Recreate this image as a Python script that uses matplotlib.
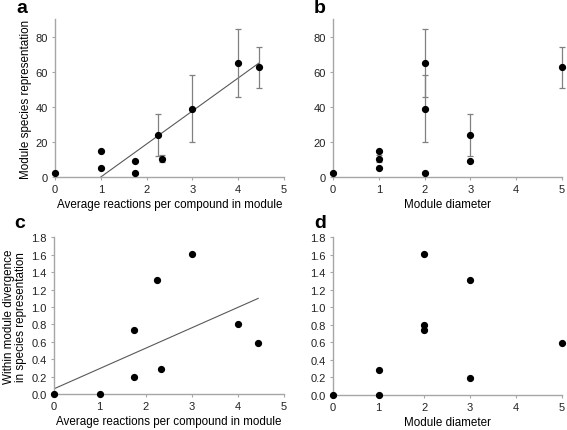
import matplotlib
matplotlib.use("Agg")
import matplotlib.pyplot as plt
import numpy as np

plt.rcParams['font.family'] = ['Liberation Sans', 'DejaVu Sans']

# Panel a: average reactions per compound vs species representation
a_x = [0, 1, 1, 1.75, 1.75, 2.25, 2.33, 3, 4, 4.45]
a_y = [2, 15, 5, 9, 2, 24, 10.5, 39, 65, 62.5]
a_err = [0, 0, 0, 0, 0, 12, 2, 19, 19.5, 11.7]
a_fit_slope, a_fit_intercept = 18.8, -18.8
a_fit_range = [1, 4.45]

# Panel b: module diameter vs species representation
b_x = [0, 1, 1, 3, 2, 3, 1, 2, 2, 5]
b_y = a_y
b_err = a_err

# Panel c: average reactions per compound vs within-module divergence
c_x = [0, 1, 1.75, 1.75, 2.25, 2.33, 3, 4, 4.45]
c_y = [0.0, 0.0, 0.74, 0.19, 1.31, 0.29, 1.61, 0.80, 0.59]
c_fit_slope, c_fit_intercept = 0.234, 0.057
c_fit_range = [0, 4.45]

# Panel d: module diameter vs within-module divergence
d_x = [0, 1, 1, 2, 2, 2, 3, 3, 5]
d_y = [0.0, 0.0, 0.29, 1.61, 0.80, 0.74, 1.31, 0.19, 0.59]

x_ticks = [0, 1, 2, 3, 4, 5]
ab_yticks = [0, 20, 40, 60, 80]
cd_yticks = [0.0, 0.2, 0.4, 0.6, 0.8, 1.0, 1.2, 1.4, 1.6, 1.8]

W, H = 567, 431
fig = plt.figure(figsize=(W / 100, H / 100), dpi=100)

def px_axes(x0, x1, ytop, ybot):
    return fig.add_axes([x0 / W, (H - ybot) / H, (x1 - x0) / W, (ybot - ytop) / H])

spine_col = '#a6a6a6'
err_col = '#808080'
fit_col = '#595959'
lab_fs = 8.4

def style(ax, ylim, yticks, yfmt):
    for s in ['top', 'right']:
        ax.spines[s].set_visible(False)
    for s in ['left', 'bottom']:
        ax.spines[s].set_color(spine_col)
        ax.spines[s].set_linewidth(1.0)
    ax.set_xlim(0, 5)
    ax.set_ylim(*ylim)
    ax.set_xticks(x_ticks)
    ax.set_yticks(yticks)
    ax.set_yticklabels([yfmt.format(v) for v in yticks])
    ax.tick_params(axis='both', direction='out', length=2, width=0.8,
                   color=spine_col, labelsize=8, labelcolor='#222222', pad=3)

ms = 4.2

axa = px_axes(55, 284, 20, 178)
style(axa, (0, 90), ab_yticks, '{:g}')
xf = np.array(a_fit_range)
axa.plot(xf, a_fit_slope * xf + a_fit_intercept, color=fit_col, lw=0.8, zorder=2)
axa.errorbar(a_x, a_y, yerr=a_err, fmt='none', ecolor=err_col, elinewidth=0.9,
             capsize=2.2, capthick=0.9, zorder=3, clip_on=False)
axa.plot(a_x, a_y, 'o', color='black', ms=ms, zorder=4, clip_on=False)
axa.set_xlabel('Average reactions per compound in module', fontsize=lab_fs, labelpad=3)
axa.set_ylabel('Module species representation', fontsize=lab_fs, labelpad=3)

axb = px_axes(333, 562, 20, 178)
style(axb, (0, 90), ab_yticks, '{:g}')
axb.errorbar(b_x, b_y, yerr=b_err, fmt='none', ecolor=err_col, elinewidth=0.9,
             capsize=2.2, capthick=0.9, zorder=3, clip_on=False)
axb.plot(b_x, b_y, 'o', color='black', ms=ms, zorder=4, clip_on=False)
axb.set_xlabel('Module diameter', fontsize=lab_fs, labelpad=3)

axc = px_axes(53.5, 283.5, 238.3, 395)
style(axc, (0, 1.8), cd_yticks, '{:.1f}')
xf = np.array(c_fit_range)
axc.plot(xf, c_fit_slope * xf + c_fit_intercept, color=fit_col, lw=0.8, zorder=2)
axc.plot(c_x, c_y, 'o', color='black', ms=ms, zorder=4, clip_on=False)
axc.set_xlabel('Average reactions per compound in module', fontsize=lab_fs, labelpad=3)
axc.set_ylabel('Within module divergence\nin species representation', fontsize=lab_fs,
               labelpad=3, linespacing=0.95)

axd = px_axes(332.7, 561.7, 238.3, 396)
style(axd, (0, 1.8), cd_yticks, '{:.1f}')
axd.plot(d_x, d_y, 'o', color='black', ms=ms, zorder=4, clip_on=False)
axd.set_xlabel('Module diameter', fontsize=lab_fs, labelpad=3)

for lab, (x, y) in zip('abcd', [(16, 0), (314, 0), (14, 215), (314, 215)]):
    fig.text(x / W, 1 - y / H, lab, fontsize=14, fontweight='bold', va='top', ha='left')

fig.savefig('out.png', dpi=100)
